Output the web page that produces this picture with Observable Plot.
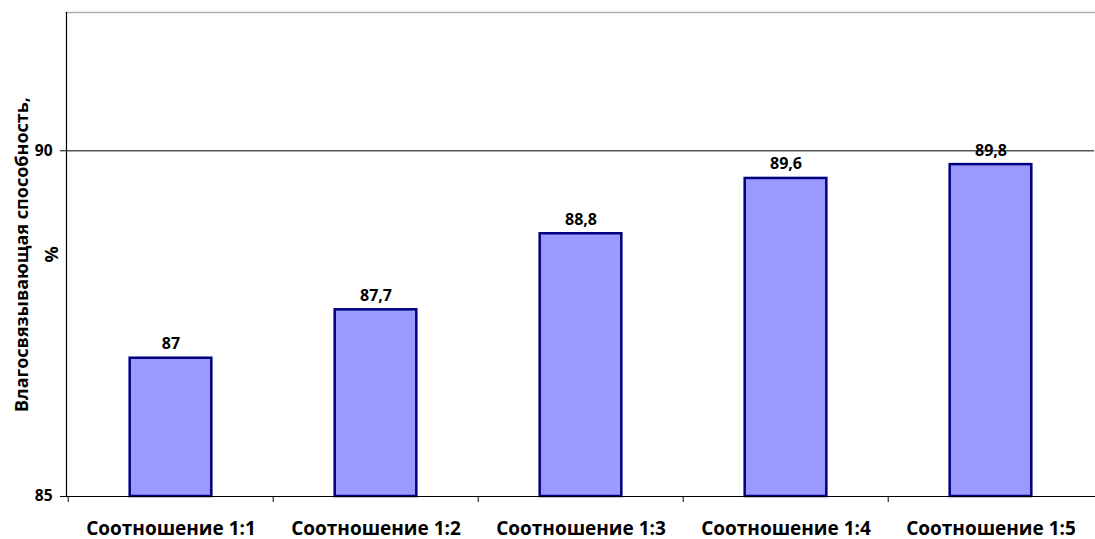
<!DOCTYPE html>
<html><head><meta charset="utf-8">
<script src="https://cdn.jsdelivr.net/npm/d3@7"></script>
<script src="https://cdn.jsdelivr.net/npm/@observablehq/plot@0.6"></script>
<style>body{margin:0;background:#fff;} svg{display:block;}</style>
</head><body><div id="chart"></div>
<script>
const categories = ["Соотношение 1:1","Соотношение 1:2","Соотношение 1:3","Соотношение 1:4","Соотношение 1:5"];
const values = [87, 87.7, 88.8, 89.6, 89.8];
const valueLabels = ["87","87,7","88,8","89,6","89,8"];
const yTicks = [85, 90];
const yDomain = [85, 92];
const yTitle = "Влагосвязывающая способность,\n%";

const data = categories.map((c,i)=>({cat:c, v:values[i], lab:valueLabels[i], base:yDomain[0]}));
const W = 1095, H = 539, mL = 66, mR = 1, mT = 12, mB = 43;
const bw = (W - mL - mR) / categories.length;
const font = "'Open Sans', 'Noto Sans', sans-serif";

const chart = Plot.plot({
  width: W, height: H,
  marginLeft: mL, marginRight: mR, marginTop: mT, marginBottom: mB,
  style: {fontFamily: font, color: "#000", background: "#fff", overflow: "visible"},
  x: {domain: categories, padding: 0},
  y: {domain: yDomain},
  marks: [
    Plot.frame({anchor: "top", stroke: "#b0b0b0", strokeWidth: 1.5}),
    Plot.ruleY([90], {stroke: "#555", strokeWidth: 1.5}),
    Plot.barY(data, {x: "cat", y1: "base", y2: "v", fill: "#9999FF", stroke: "#000080", strokeWidth: 2.5, insetLeft: bw*0.3, insetRight: bw*0.3}),
    Plot.text(data, {x: "cat", y: "v", text: "lab", lineAnchor: "bottom", dy: -9, fontSize: 16, fontWeight: "bold", fill: "#000"}),
    Plot.axisY({ticks: yTicks, tickFormat: d3.format("d"), tickSize: 6, tickPadding: 8, fontSize: 15.5, fontWeight: "bold", label: null, stroke: "#000"}),
    Plot.frame({anchor: "left", stroke: "#000", strokeWidth: 1.2}),
    Plot.frame({anchor: "bottom", stroke: "#000", strokeWidth: 1.2}),
    Plot.axisX({ticks: categories, text: null, tickSize: 6, dx: -bw/2, label: null}),
    Plot.axisX({ticks: categories, tickSize: 0, tickPadding: 25, fontSize: 19, fontWeight: "bold", label: null}),
    Plot.text([yTitle], {frameAnchor: "left", textAnchor: "middle", rotate: -90, dx: -33, lineHeight: 1.65, fontSize: 18, fontWeight: "bold", fill: "#000"})
  ]
});
document.getElementById("chart").append(chart);
</script></body></html>
